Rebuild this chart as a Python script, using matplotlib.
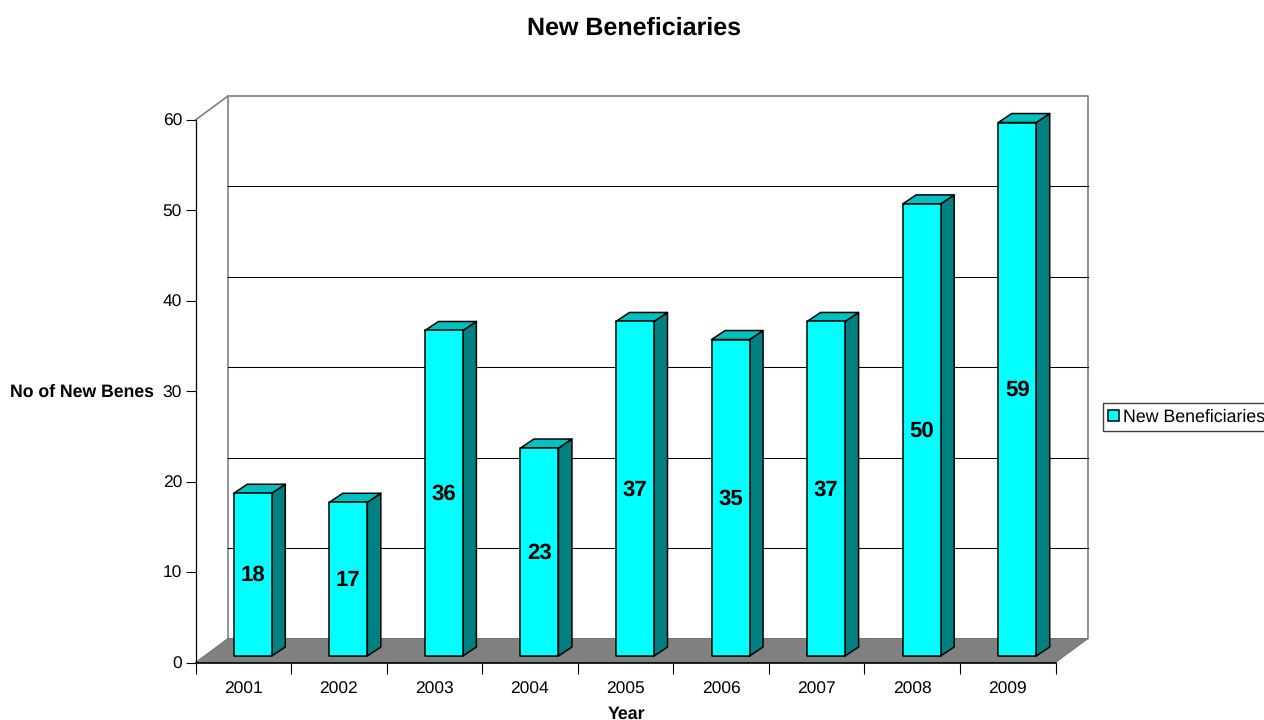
import matplotlib
matplotlib.use('Agg')
import matplotlib.pyplot as plt
from matplotlib.patches import Polygon, Patch

years = ['2001', '2002', '2003', '2004', '2005', '2006', '2007', '2008', '2009']
new_benes = [18, 17, 36, 23, 37, 35, 37, 50, 59]
y_ticks = [0, 10, 20, 30, 40, 50, 60]

plt.rcParams['font.family'] = ['Liberation Sans', 'DejaVu Sans']
plt.rcParams['text.hinting'] = 'no_hinting'

W, H = 1264, 720
fig = plt.figure(figsize=(W / 100, H / 100), dpi=100)
# front plane of the fake 3d box, the walls and bars stick out of it with clip_on=False
ax = fig.add_axes([195.5 / W, (H - 662.5) / H, 860 / W, 542.5 / H])
ax.set_xlim(0, len(years))
ax.set_ylim(0, 60)

# depth offsets in data units
back_dx, back_dy = 32.5 / 95.56, 24 / 9.04
base_dx, base_dy = 9.5 / 95.56, 6.5 / 9.04
bar_dx, bar_dy = 13.5 / 95.56, 9 / 9.04
bar_w = 38 / 95.56
n = len(years)

wall_color = '#808080'
wall = [(0, 60), (back_dx, 60 + back_dy), (n + back_dx, 60 + back_dy), (n + back_dx, back_dy)]
ax.plot(*zip(*wall), color=wall_color, lw=1.2, clip_on=False, zorder=1)
ax.plot([back_dx, back_dx], [back_dy, 60 + back_dy], color=wall_color, lw=1.2, clip_on=False, zorder=1)

for v in y_ticks[1:-1]:
    ax.plot([back_dx, n + back_dx], [v + back_dy, v + back_dy], color='black', lw=0.75,
            clip_on=False, zorder=1)

floor = [(0, 0), (back_dx, back_dy), (n + back_dx, back_dy), (n, 0)]
ax.add_patch(Polygon(floor, closed=True, facecolor=wall_color, edgecolor='#707070', lw=0.7,
                     clip_on=False, zorder=2))

for i, v in enumerate(new_benes):
    x0 = i + 0.5 - bar_w / 2 + base_dx
    x1 = x0 + bar_w
    y0 = base_dy
    y1 = v + base_dy
    side = [(x1, y0), (x1 + bar_dx, y0 + bar_dy), (x1 + bar_dx, y1 + bar_dy), (x1, y1)]
    top = [(x0, y1), (x0 + bar_dx, y1 + bar_dy), (x1 + bar_dx, y1 + bar_dy), (x1, y1)]
    front = [(x0, y0), (x1, y0), (x1, y1), (x0, y1)]
    for pts, col in [(side, '#008080'), (top, '#00C0C0'), (front, '#00FFFF')]:
        ax.add_patch(Polygon(pts, closed=True, facecolor=col, edgecolor='black', lw=1.1,
                             joinstyle='round', clip_on=False, zorder=3))
    ax.text((x0 + x1) / 2, (y0 + y1) / 2 - 0.1, str(v), ha='center', va='center', fontsize=16,
            fontweight='bold', color='black', zorder=4)

ax.spines['top'].set_visible(False)
ax.spines['right'].set_visible(False)
ax.spines['left'].set_linewidth(0.9)
ax.spines['bottom'].set_linewidth(1.2)

ax.set_yticks(y_ticks)
ax.tick_params(axis='y', length=7.2, width=0.8, labelsize=12.5, pad=2.5)
ax.set_xticks(range(n + 1))
ax.set_xticklabels([])
ax.set_xticks([i + 0.5 for i in range(n)], labels=years, minor=True)
ax.tick_params(axis='x', which='major', length=8, width=0.8)
ax.tick_params(axis='x', which='minor', length=0, labelsize=12.5, pad=13.5)

ax.set_xlabel('Year', fontsize=12.8, fontweight='bold')
ax.xaxis.set_label_coords((626 - 195.5) / 860, (662.5 - 714) / 542.5)
ax.xaxis.label.set_va('center')
ax.set_ylabel('No of New Benes', fontsize=12.7, fontweight='bold', rotation=0, ha='right', va='center')
ax.yaxis.set_label_coords((154 - 195.5) / 860, (662.5 - 392) / 542.5)

fig.text(634.5 / W, 1 - 28 / H, 'New Beneficiaries', ha='center', va='center', fontsize=18,
         fontweight='bold')

handle = Patch(facecolor='#00FFFF', edgecolor='black', lw=1.1, label='New Beneficiaries')
ax.legend(handles=[handle], loc='center left', bbox_to_anchor=(1103 / W, 1 - 417 / H),
          bbox_transform=fig.transFigure, fontsize=12.8, fancybox=False, framealpha=1,
          edgecolor='#404040', handlelength=0.6, handleheight=0.6, handletextpad=0.2,
          borderpad=0.3, borderaxespad=0)

fig.savefig('out.png', dpi=100)
